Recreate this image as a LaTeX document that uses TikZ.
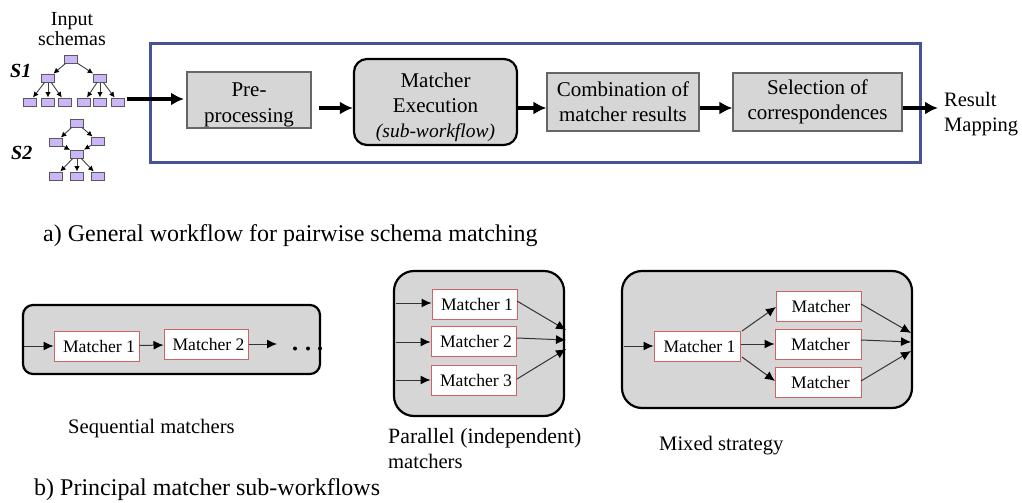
\documentclass[tikz,border=0pt]{standalone}
\usepackage{fontspec}
\setmainfont{Liberation Serif}
\usetikzlibrary{arrows.meta}
\usetikzlibrary{positioning}
\definecolor{framecol}{RGB}{72,82,150}
\definecolor{boxgray}{RGB}{214,214,214}
\definecolor{redline}{RGB}{205,100,100}
\definecolor{leafcol}{RGB}{204,182,250}
\tikzstyle{flow}=[
  >={Latex[length=13bp,width=13bp]},line width=4bp
]
\tikzstyle{wire}=[
  >={Latex[length=10bp,width=9bp,black]},line width=1bp,black!80
]
\tikzstyle{schemaedge}=[
  >={Latex[length=5.5bp,width=5.5bp,black]},line width=0.9bp,black!75
]
\tikzstyle{stepbox}=[
  draw=black!60,line width=1.1bp,fill=boxgray,align=center,inner sep=0pt,font=\fontsize{21bp}{25bp}\selectfont
]
\tikzstyle{groupbox}=[
  draw=black,line width=2.2bp,fill=boxgray,inner sep=0pt
]
\tikzstyle{matcher}=[
  draw=redline,line width=1bp,fill=white,inner sep=0pt,minimum width=85bp,minimum height=30bp,
  font=\fontsize{17.6bp}{20bp}\selectfont,execute at begin node=\hspace*{5bp}
]
\tikzstyle{item}=[
  draw=black!65,line width=1bp,fill=leafcol,inner sep=0pt,minimum width=13bp,minimum height=8bp
]
\tikzstyle{caption}=[
  inner sep=0pt,anchor=west,font=\fontsize{20.6bp}{24bp}\selectfont
]
\tikzstyle{bigcaption}=[
  inner sep=0pt,anchor=west,font=\fontsize{24bp}{28bp}\selectfont
]
\tikzstyle{schemaname}=[
  inner sep=0pt,anchor=west,font=\fontsize{20bp}{24bp}\selectfont\bfseries\itshape
]
\begin{document}
\begin{tikzpicture}
    \useasboundingbox (0bp,0bp) rectangle (1022bp,-503bp);
    % top row
    \node (frame) at (535bp,-102.5bp) [draw=framecol,line width=3bp,minimum width=770bp,minimum height=119bp,inner sep=0pt] {};
    \node (pre) at (249bp,-100bp) [stepbox,minimum width=124bp,minimum height=56bp,font=\fontsize{21bp}{26bp}\selectfont] {\rule{0pt}{24bp}Pre-\\processing};
    \node (exec) at (435.5bp,-102bp) [stepbox,rounded corners=13bp,draw=black,line width=2.2bp,minimum width=163bp,minimum height=86bp] {\rule{0pt}{26bp}Matcher\\Execution\\{\fontsize{19.5bp}{25bp}\selectfont\itshape (sub-workflow)}};
    \node (comb) at (623bp,-102bp) [stepbox,minimum width=152bp,minimum height=58bp] {Combination of\\matcher results};
    \node (sel) at (817.5bp,-102bp) [stepbox,minimum width=169bp,minimum height=58bp] {Selection of\\correspondences};
    \node (in) at (72bp,-29bp) [align=center,inner sep=0pt,font=\fontsize{20bp}{20bp}\selectfont] {Input\\schemas};
    \node (res) at (944bp,-114bp) [inner sep=0pt,anchor=west,align=left,font=\fontsize{20.5bp}{25bp}\selectfont] {Result\\Mapping};
    \coordinate (inend) at (127bp,-99bp);
    \coordinate (resend) at (938bp,-108bp);
    \coordinate (a1) at (319bp,-108bp);
    \draw [flow,->] (inend) -- (184bp,-99bp);
    \draw [flow,->] (a1) -- (exec.west |- a1);
    \draw [flow,->] (exec.east |- a1) -- (comb.west |- a1);
    \draw [flow,->] (comb.east |- a1) -- (sel.west |- a1);
    \draw [flow,->] (sel.east |- a1) -- (resend);
    % schema S1
    \node (s1) at (10bp,-71bp) [schemaname] {S1};
    \node (r1) at (71bp,-59bp) [item] {};
    \node (u1) at (48bp,-78bp) [item] {};
    \node (u2) at (100bp,-78bp) [item] {};
    \node (l1) at (29.5bp,-102bp) [item] {};
    \node (l2) at (48bp,-102bp) [item] {};
    \node (l3) at (65bp,-102bp) [item] {};
    \node (l4) at (84bp,-102bp) [item] {};
    \node (l5) at (100bp,-102bp) [item] {};
    \node (l6) at (118bp,-102bp) [item] {};
    \draw [schemaedge,->] (r1) -- (u1);
    \draw [schemaedge,->] (r1) -- (u2);
    \draw [schemaedge,->] (u1) -- (l1);
    \draw [schemaedge,->] (u1) -- (l2);
    \draw [schemaedge,->] (u1) -- (l3);
    \draw [schemaedge,->] (u2) -- (l4);
    \draw [schemaedge,->] (u2) -- (l5);
    \draw [schemaedge,->] (u2) -- (l6);
    % schema S2
    \node (s2) at (11bp,-153bp) [schemaname] {S2};
    \node (q1) at (76.5bp,-123bp) [item] {};
    \node (q2) at (56bp,-142bp) [item] {};
    \node (q3) at (98bp,-141bp) [item] {};
    \node (q4) at (77bp,-154bp) [item] {};
    \node (q5) at (56bp,-176bp) [item] {};
    \node (q6) at (77bp,-176bp) [item] {};
    \node (q7) at (98bp,-176bp) [item] {};
    \draw [schemaedge,->] (q1) -- (q2);
    \draw [schemaedge,->] (q1) -- (q3);
    \draw [schemaedge,->] (q2) -- (q4);
    \draw [schemaedge,->] (q3) -- (q4);
    \draw [schemaedge,->] (q4) -- (q5);
    \draw [schemaedge,->] (q4) -- (q6);
    \draw [schemaedge,->] (q4) -- (q7);
    \node (cap1) at (43bp,-236bp) [bigcaption] {a) General workflow for pairwise schema matching};
    % sequential
    \node (seq) at (171.5bp,-339.5bp) [groupbox,rounded corners=10bp,minimum width=297bp,minimum height=69bp] {};
    \node (m1) at (96.5bp,-346bp) [matcher] {Matcher 1};
    \node (m2) at (206bp,-344.5bp) [matcher,minimum width=84bp] {Matcher 2};
    \coordinate (seqin) at (24bp,-346bp);
    \coordinate (seqout) at (277bp,-344bp);
    \draw [wire,->] (seqin) -- (m1);
    \draw [wire,->] (m1) -- (m2);
    \draw [wire,->] (m2.east |- seqout) -- (seqout);
    \fill (295bp,-348.5bp) circle (2bp);
    \fill (308bp,-348.5bp) circle (2bp);
    \fill (320bp,-348.5bp) circle (2bp);
    \node (cap2) at (68bp,-429bp) [caption] {Sequential matchers};
    % parallel
    \node (par) at (479bp,-343.5bp) [groupbox,rounded corners=20bp,minimum width=170bp,minimum height=145bp] {};
    \node (p1) at (474.5bp,-304bp) [matcher] {Matcher 1};
    \node (p2) at (473.5bp,-341.5bp) [matcher] {Matcher 2};
    \node (p3) at (473.5bp,-380bp) [matcher] {Matcher 3};
    \coordinate (pin1) at (396bp,-303bp);
    \coordinate (pin2) at (396bp,-342bp);
    \coordinate (pin3) at (396bp,-380bp);
    \coordinate (pout1) at (566bp,-330bp);
    \coordinate (pout2) at (566bp,-340bp);
    \coordinate (pout3) at (566bp,-349bp);
    \draw [wire,->] (pin1) -- (p1.west |- pin1);
    \draw [wire,->] (pin2) -- (p2.west |- pin2);
    \draw [wire,->] (pin3) -- (p3.west |- pin3);
    \draw [wire,->] (517bp,-301bp) -- (pout1);
    \draw [wire,->] (517bp,-338bp) -- (pout2);
    \draw [wire,->] (517bp,-379bp) -- (pout3);
    \node (cap3) at (388bp,-438bp) [caption,font=\fontsize{21.8bp}{24bp}\selectfont] {Parallel (independent)};
    \node (cap4) at (388bp,-461bp) [caption] {matchers};
    % mixed
    \node (mix) at (767bp,-339.5bp) [groupbox,rounded corners=20bp,minimum width=290bp,minimum height=137bp] {};
    \node (x0) at (697bp,-346bp) [matcher,minimum width=86bp] {Matcher 1};
    \node (x1) at (818.5bp,-306.5bp) [matcher] {Matcher};
    \node (x2) at (818bp,-344bp) [matcher,minimum width=86bp] {Matcher};
    \node (x3) at (818bp,-382.5bp) [matcher,minimum width=86bp] {Matcher};
    \coordinate (xin) at (624bp,-346bp);
    \coordinate (xout1) at (911bp,-333bp);
    \coordinate (xout2) at (911bp,-342bp);
    \coordinate (xout3) at (911bp,-351bp);
    \draw [wire,->] (xin) -- (x0);
    \draw [wire,->] (742bp,-331bp) -- (776bp,-307bp);
    \draw [wire,->] (x0.east |- x2) -- (x2);
    \draw [wire,->] (742bp,-357bp) -- (775bp,-381bp);
    \draw [wire,->] (861bp,-304bp) -- (xout1);
    \draw [wire,->] (861bp,-340bp) -- (xout2);
    \draw [wire,->] (861bp,-381bp) -- (xout3);
    \node (cap5) at (659bp,-446bp) [caption] {Mixed strategy};
    \node (cap6) at (34bp,-490bp) [bigcaption] {b) Principal matcher sub-workflows};
\end{tikzpicture}
\end{document}
